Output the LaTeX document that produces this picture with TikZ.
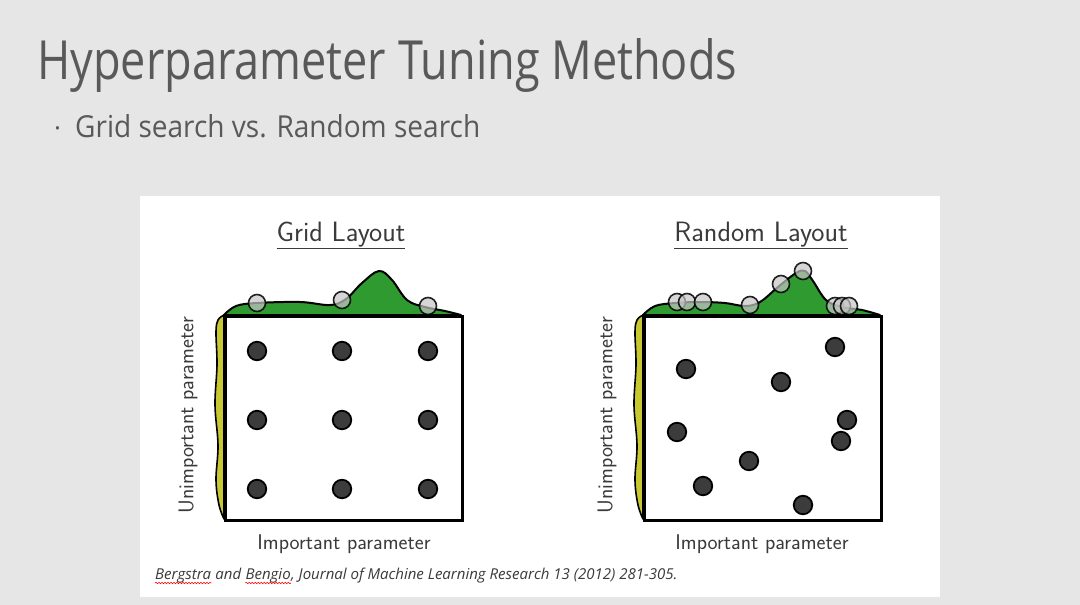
\documentclass[tikz,border=0pt]{standalone}
\usepackage{fontspec}
\usetikzlibrary{decorations.pathmorphing}
\newfontfamily\slidefont{Open Sans}
\definecolor{slidebg}{HTML}{E6E6E6}
\definecolor{slidetext}{HTML}{595959}
\definecolor{labeltext}{HTML}{3A3A3A}
\definecolor{dotgray}{HTML}{3C3C3C}
\definecolor{ridgegreen}{HTML}{2E9A30}
\definecolor{sideyellow}{HTML}{C8C832}
\tikzset{
  plotbox/.style={draw=black, line width=2.5pt, fill=white, inner sep=0pt, anchor=north west},
  dot/.style={circle, fill=dotgray, draw=black, line width=1.8pt, minimum size=18.5pt, inner sep=0pt},
  probe/.style={circle, fill=gray!45, fill opacity=0.7, draw=black, draw opacity=0.85, line width=1.6pt, minimum size=17pt, inner sep=0pt},
  ridge/.style={fill=ridgegreen, draw=black, line width=2pt, line join=round},
  side/.style={fill=sideyellow, draw=black, line width=1.6pt, line join=round},
  paneltitle/.style={font=\sffamily\fontsize{28}{32}\selectfont, text=labeltext, inner sep=0pt, anchor=base},
  axislabel/.style={font=\sffamily\fontsize{21.3}{25}\selectfont, text=labeltext, inner sep=0pt},
  cite/.style={font=\slidefont\itshape\fontsize{15}{18}\selectfont, text=labeltext, inner sep=0pt, anchor=base west},
  squiggle/.style={red, line width=0.6pt, decorate, decoration={snake, amplitude=0.7pt, segment length=3pt}}
}
\begin{document}
\begin{tikzpicture}[x=1pt,y=-1pt]
\useasboundingbox (0,0) rectangle (1080,605);
\fill[slidebg] (0,0) rectangle (1080,605);
% slide title
\node[anchor=base west, inner sep=0pt, text=slidetext] (title) at (37,79)
  {\resizebox{700pt}{41pt}{\slidefont Hyperparameter Tuning Methods}};
\node[anchor=base west, inner sep=0pt, text=slidetext, font=\slidefont\fontsize{26}{30}\selectfont] (bullet) at (54,137) {·};
\node[anchor=base west, inner sep=0pt, text=slidetext] (subtitle) at (75,137)
  {\resizebox{405pt}{23pt}{\slidefont Grid search vs. Random search}};
% white panel
\fill[white] (140,196) rectangle (940,597);

% ===== Grid layout =====
\node[paneltitle] (gtitle) at (341,241) {\underline{Grid\ Layout}};
\filldraw[ridge] plot[smooth, tension=0.6] coordinates {(224,315) (236,306) (257,303) (300,302) (330,305) (346,299) (362,283) (379,271) (392,280) (407,300) (425,307) (445,311) (461,315)} -- cycle;
\filldraw[side] plot[smooth, tension=0.6] coordinates {(224,315) (218,320) (216,332) (217,365) (215,405) (218,445) (216,480) (219,505) (224,519)} -- cycle;
\node[plotbox, minimum width=237pt, minimum height=204pt] (gbox) at (224,315) {};
\foreach \x [count=\i] in {257,342,428}{
  \foreach \y [count=\j] in {351,420,489}{
    \node[dot] (g\i\j) at (\x,\y) {};
  }
}
\node[probe] (gp1) at (257,303) {};
\node[probe] (gp2) at (342,300) {};
\node[probe] (gp3) at (428,306) {};
\node[axislabel, rotate=90] (gy) at (188,415) {Unimportant parameter};
\node[axislabel] (gx) at (344,544) {Important parameter};

% ===== Random layout =====
\node[paneltitle] (rtitle) at (761,241) {\underline{Random\ Layout}};
\filldraw[ridge] plot[smooth, tension=0.6] coordinates {(643,315) (655,306) (675,303) (700,302) (725,303) (745,306) (760,302) (778,287) (796,273) (805,271) (813,281) (826,300) (842,307) (862,310) (880,315)} -- cycle;
\filldraw[side] plot[smooth, tension=0.6] coordinates {(643,315) (637,320) (635,332) (636,365) (634,405) (637,445) (635,480) (638,505) (643,519)} -- cycle;
\node[plotbox, minimum width=237pt, minimum height=204pt] (rbox) at (643,315) {};
\node[dot] (r1) at (686,369) {};
\node[dot] (r2) at (781,382) {};
\node[dot] (r3) at (835,347) {};
\node[dot] (r4) at (847,420) {};
\node[dot] (r5) at (677,432) {};
\node[dot] (r6) at (841,441) {};
\node[dot] (r7) at (749,461) {};
\node[dot] (r8) at (703,486) {};
\node[dot] (r9) at (803,505) {};
\node[probe] (rp1) at (677,302) {};
\node[probe] (rp2) at (687,302) {};
\node[probe] (rp3) at (703,302) {};
\node[probe] (rp4) at (750,305) {};
\node[probe] (rp5) at (781,284) {};
\node[probe] (rp6) at (803,271) {};
\node[probe] (rp7) at (835,306) {};
\node[probe] (rp8) at (842,306) {};
\node[probe] (rp9) at (849,306) {};
\node[axislabel, rotate=90] (ry) at (607,415) {Unimportant parameter};
\node[axislabel] (rx) at (762,544) {Important parameter};

% ===== citation =====
\node[cite] (c1) at (155,579) {Bergstra};
\node[cite] (c2) at (c1.base east) {\ and\ \mbox{}};
\node[cite] (c3) at (c2.base east) {Bengio};
\node[cite] (c4) at (c3.base east) {, Journal of Machine Learning Research 13 (2012) 281-305.};
\draw[squiggle] ([yshift=-4pt]c1.base west) -- ([yshift=-4pt]c1.base east);
\draw[squiggle] ([yshift=-4pt]c3.base west) -- ([yshift=-4pt]c3.base east);
\end{tikzpicture}
\end{document}
